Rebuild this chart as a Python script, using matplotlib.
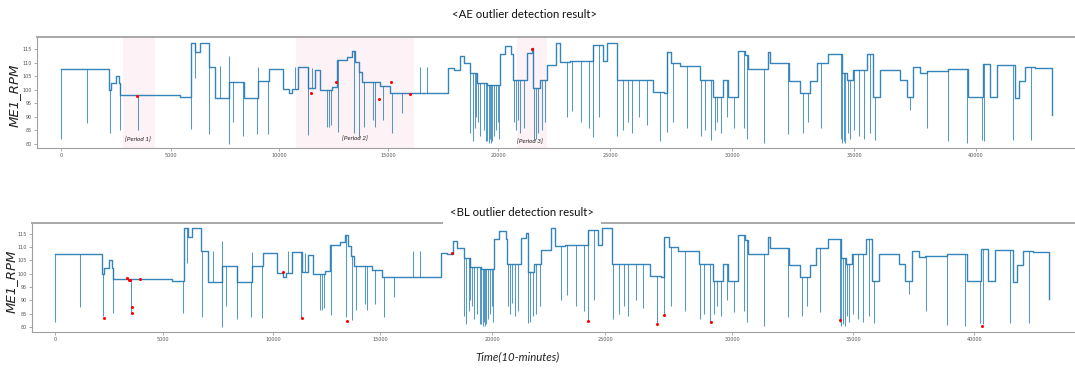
import numpy as np
import matplotlib
matplotlib.use("Agg")
import matplotlib.pyplot as plt

# ---------------- data ----------------
# step levels of ME1_RPM: start time (10-min index) and level
step_t = [0, 2180, 2270, 2480, 2640, 2700, 5420, 5950, 6130, 6330, 6745, 7040,
          7700, 8360, 9040, 9530, 10170, 10450, 10600, 10890, 11345, 11650,
          11880, 12420, 12650, 13110, 13340, 13490, 13650, 13800, 14640, 15090,
          17740, 18000, 18270, 18450, 18730, 19030, 19490, 20090, 20300, 20600,
          20680, 21280, 21500, 21570, 21870, 22170, 22600, 22770, 23210, 24250,
          24700, 24850, 25270, 26780, 27200, 27320, 27500, 27870, 28690, 29240,
          29650, 29850, 30260, 30530, 30670, 31490, 31560, 32350, 32790, 33200,
          33470, 33950, 34500, 34700, 34970, 35520, 35790, 36070, 36890, 37160,
          37430, 37710, 37980, 38870, 39690, 40300, 40570, 40870, 41600, 41770,
          42010, 42420, 43100]
step_v = [107.6, 100.0, 102.3, 105.2, 102.3, 98.1, 97.4, 117.3, 113.8, 117.2, 108.5, 96.8,
          102.8, 96.8, 103.1, 107.7, 100.2, 98.8, 100.2, 108.2, 100.5, 107.2,
          100.0, 101.0, 111.0, 112.0, 114.4, 110.3, 106.5, 103.0, 101.5, 98.9,
          107.9, 107.3, 112.4, 109.7, 106.0, 102.4, 101.7, 113.2, 116.1, 113.2,
          103.6, 113.4, 115.3, 100.5, 103.6, 109.1, 117.1, 110.3, 110.7, 116.5,
          110.7, 117.3, 103.6, 99.3, 98.7, 113.7, 110.0, 108.7, 103.6, 97.4,
          103.6, 97.4, 114.4, 112.8, 107.6, 114.0, 109.7, 103.3, 98.7, 103.3,
          109.7, 113.2, 106.0, 103.6, 107.3, 113.2, 97.4, 107.3, 103.6, 97.4,
          108.5, 106.3, 106.7, 107.5, 97.4, 109.4, 97.4, 109.1, 96.8, 103.3,
          108.5, 108.1, 90.7]

# short excursions (spikes): time and extreme value
spike_t = [0, 1170, 2230, 2680, 3500, 5910, 6100, 6760, 7250, 7670, 7690, 7860,
           8350, 8990, 9030, 9500, 10720, 11320, 11500, 12200, 12300, 12380, 12720,
           13420, 13680, 13890, 14310, 14410, 14780, 15170, 15620, 16450, 16790,
           18750, 18850, 18950, 19000, 19100, 19200, 19350, 19450, 19520, 19580,
           19620, 19680, 19750, 19820, 19900, 19980, 20050, 20700, 20800, 20900,
           21000, 21150, 21600, 21700, 21800, 21950, 22100, 23060, 23300, 23700,
           24050, 24260, 24500, 25300, 25550, 25750, 25900, 26200, 26500, 27040,
           27320, 27600, 28150, 28750, 28900, 29150, 29300, 29400, 29550, 29800,
           30100, 30500, 30600, 31330, 32300, 32900, 33100, 33650, 34450, 34520,
           34580, 34650, 34750, 34850, 35000, 35200, 35400, 35650, 35850, 37300,
           38000, 38870, 39620, 40240, 40350, 41500, 42250]
spike_v = [82.0, 87.6, 84.0, 85.2, 85.2, 85.4, 104.2, 83.7, 108.7, 80.0, 112.4, 88.0,
           83.0, 83.7, 108.3, 83.5, 108.5, 83.3, 108.0, 86.4, 86.4, 87.0, 84.5,
           83.9, 82.7, 86.4, 88.8, 86.4, 88.8, 83.9, 91.3, 108.5, 108.5,
           84.0, 81.0, 86.0, 90.0, 88.0, 83.0, 85.0, 81.0, 81.0, 80.5,
           82.0, 80.5, 81.0, 83.0, 85.0, 88.0, 82.0, 88.0, 85.0, 89.0,
           84.0, 86.0, 81.5, 82.0, 84.0, 85.0, 88.0, 90.0, 92.0, 88.0,
           86.0, 82.4, 90.0, 83.0, 85.0, 88.0, 84.0, 90.0, 87.0, 81.0,
           84.5, 88.0, 86.0, 83.0, 85.0, 81.5, 85.0, 88.0, 84.0, 90.0,
           85.8, 86.0, 82.0, 80.2, 83.7, 84.0, 88.0, 85.8, 82.0, 80.2,
           81.0, 80.5, 84.0, 82.0, 85.0, 83.0, 82.0, 84.0, 81.5, 92.5,
           86.0, 80.9, 80.2, 81.5, 81.0, 81.5, 81.5]

# detected outliers
ae_out_t = [3440, 11470, 12616, 14570, 15140, 15990, 21530]
ae_out_v = [97.8, 98.7, 102.7, 96.6, 102.7, 98.4, 115.0]
bl_out_t = [2283, 3319, 3410, 3470, 3580, 3580, 3935, 10450, 11370, 13440,
            18200, 24260, 27040, 27320, 29170, 34460, 40320]
bl_out_v = [83.5, 98.3, 97.7, 97.7, 87.4, 85.4, 97.9, 100.8, 83.4, 82.4,
            108.0, 82.4, 81.0, 84.5, 81.8, 82.6, 80.4]

period_names = ["[Period 1]", "[Period 2]", "[Period 3]"]
period_start = [2800, 10780, 20850]
period_end = [4270, 16180, 22190]
period_label_t = [3500, 13490, 21430]
period_label_v = [81.7, 81.8, 80.7]

x_ticks = [0, 5000, 10000, 15000, 20000, 25000, 30000, 35000, 40000]
y_ticks = [80, 85, 90, 95, 100, 105, 110, 115]

# horizontal spacing of the ticks in the source image (it is not uniform)
top_tick_px = [61, 171, 279, 388, 498, 610, 732, 854, 976]
bot_tick_px = [55, 163, 273, 380, 492, 605, 732, 853, 974]

W, H = 1075, 369
LINE = "#1f77b4"


def make_scale(px):
    vals = np.array([-5000] + x_ticks + [45000], dtype=float)
    p = np.array([px[0] - (px[1] - px[0])] + px + [px[-1] + (px[-1] - px[-2])], dtype=float)

    def fwd(t):
        return np.interp(t, vals, p)

    def inv(q):
        return np.interp(q, p, vals)
    return fwd, inv


def level_at(t):
    st = np.asarray(step_t)
    idx = np.searchsorted(st, t, side="right") - 1
    return np.asarray(step_v)[np.clip(idx, 0, len(step_v) - 1)]


def draw_panel(ax, tick_px, xlim, ylim, out_t, out_v):
    fwd, inv = make_scale(tick_px)
    ax.set_xscale("function", functions=(fwd, inv))
    ax.step(step_t, step_v, where="post", color=LINE, lw=1.0, alpha=0.9, zorder=2)
    base = level_at(np.asarray(spike_t))
    ax.vlines(spike_t, base, spike_v, color=LINE, lw=0.75, alpha=0.75, zorder=2)
    ax.plot(out_t, out_v, "o", color="red", ms=2.2, mew=0, zorder=4)
    ax.set_xlim(*xlim)
    ax.set_ylim(*ylim)
    ax.set_xticks(x_ticks)
    ax.set_xticklabels([str(v) for v in x_ticks])
    ax.set_yticks(y_ticks)
    ax.tick_params(labelsize=3.5, labelcolor="#555555", length=2, width=0.5,
                   color="#888888", pad=1.5)
    for s in ("left", "bottom"):
        ax.spines[s].set_color("#a0a0a0")
        ax.spines[s].set_linewidth(0.8)
    ax.spines["top"].set_color("#a8a8a8")
    ax.spines["top"].set_linewidth(1.4)
    ax.spines["right"].set_visible(False)


fig = plt.figure(figsize=(W / 100, H / 100), dpi=100)

# top panel (AE)
ax1 = fig.add_axes([37 / W, 1 - 148 / H, (W - 37) / W, (148 - 37) / H])
draw_panel(ax1, top_tick_px, (-1090, 44060), (78.5, 119.4), ae_out_t, ae_out_v)
for s, e in zip(period_start, period_end):
    ax1.axvspan(s, e, color="#fdf2f5", zorder=0, lw=0)
for name, t, v in zip(period_names, period_label_t, period_label_v):
    ax1.text(t, v, name, fontsize=4.6, style="italic", ha="center", va="center",
             family=["Liberation Sans Narrow", "Lato"], color="#222222", zorder=5)

# bottom panel (BL)
ax2 = fig.add_axes([32 / W, 1 - 332 / H, (W - 32) / W, (332 - 223) / H])
draw_panel(ax2, bot_tick_px, (-1065, 44170), (78.1, 119.1), bl_out_t, bl_out_v)

# titles and labels
title_font = ["Liberation Sans Narrow", "Lato"]
fig.text(525 / W, 1 - 14 / H, "<AE outlier detection result>", ha="center", va="center",
         fontsize=8.2, family=title_font, color="#111111")
fig.text(522 / W, 1 - 213 / H, "<BL outlier detection result>", ha="center", va="center",
         fontsize=8.2, family=title_font, color="#111111", zorder=10,
         bbox=dict(boxstyle="square,pad=0.6", fc="white", ec="none"))
fig.text(14 / W, 1 - 95 / H, "ME1_RPM", rotation=90, ha="center", va="center",
         fontsize=9.5, style="italic", color="#222222")
fig.text(11 / W, 1 - 281 / H, "ME1_RPM", rotation=90, ha="center", va="center",
         fontsize=9.5, style="italic", color="#222222")
fig.text(517 / W, 1 - 357 / H, "Time(10-minutes)", ha="center", va="center",
         fontsize=8.2, style="italic", family=title_font, color="#222222")

fig.savefig("out.png", dpi=100)
